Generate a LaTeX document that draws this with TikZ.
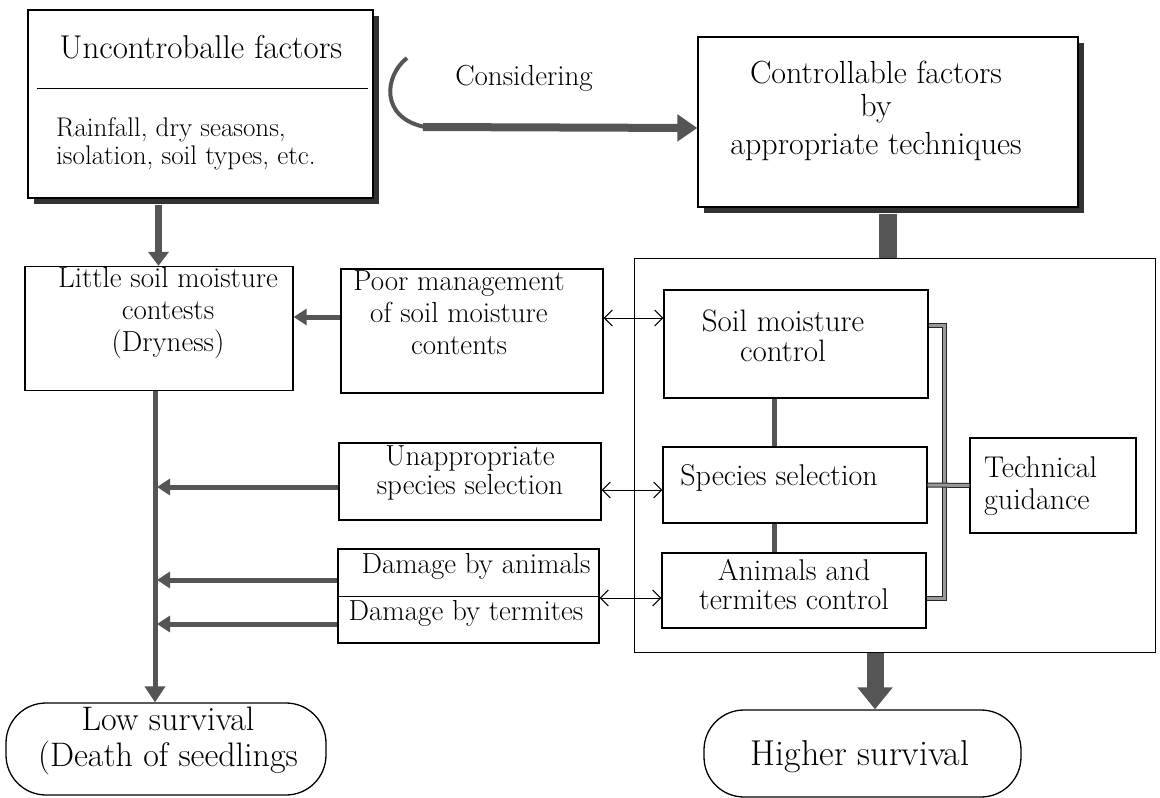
\documentclass[tikz,border=0pt]{standalone}
\usepackage{fontspec}
\usetikzlibrary{arrows.meta,calc,shadows}
\definecolor{arrowgray}{RGB}{85,85,85}
\definecolor{shadowgray}{RGB}{50,50,50}
\tikzset{
  boxnode/.style={draw=black, line width=1.3pt, fill=white, inner sep=0pt},
  shadowbox/.style={boxnode, drop shadow={shadow xshift=6pt, shadow yshift=-6pt, fill=shadowgray, opacity=1}},
  txt/.style={inner sep=0pt, align=center, font=\fontsize{30}{30}\selectfont},
  grayarrow/.style={draw=arrowgray, line width=5pt, -{Triangle[length=13pt,width=16pt]}},
  bigarrow/.style={draw=arrowgray, line width=8pt, -{Triangle[length=20pt,width=26pt]}},
  dblarrow/.style={line width=1pt, {Straight Barb[length=8pt,width=16pt]}-{Straight Barb[length=8pt,width=16pt]}},
  bracketline/.style={draw=black!85, double=arrowgray!60, line width=1pt, double distance=3pt},
  terminal/.style={draw=black, line width=1.3pt, rounded corners=40pt, inner sep=0pt},
}
\begin{document}
\begin{tikzpicture}[x=1pt,y=-1pt]
\useasboundingbox (0,0) rectangle (1160,798);

% ---------- top boxes ----------
\node[shadowbox, minimum width=345pt, minimum height=188pt] (unc) at (200.5,104) {};
\draw[line width=1pt] ([xshift=10pt,yshift=16pt]unc.west) -- ([xshift=-6pt,yshift=16pt]unc.east);
\node[txt, font=\fontsize{33}{36}\selectfont] (unctitle) at (201,47) {Uncontroballe factors};
\node[txt, anchor=west, align=left, font=\fontsize{27}{28}\selectfont] (uncbody) at (56,144) {Rainfall, dry seasons,\\isolation, soil types, etc.};

\node[shadowbox, minimum width=380pt, minimum height=170pt] (ctrl) at (888,122) {};
\node[txt, font=\fontsize{32}{33}\selectfont, anchor=north] (ctrlt) at (876,61) {Controllable factors\\by\\[5pt]appropriate techniques};

% Considering arrow
\coordinate (cstart) at (407,58);
\draw[arrowgray, line width=4pt] (cstart) .. controls (384,76) and (380,118) .. (425,127);
\draw[bigarrow] (423,127) -- ([yshift=-6pt]ctrl.west);
\node[txt, font=\fontsize{29}{30}\selectfont] (consid) at (524,78) {Considering};

% ---------- container ----------
\node[draw=black, line width=1pt, inner sep=0pt, minimum width=521pt, minimum height=394pt] (frame) at (894.5,455) {};
\draw[arrowgray, line width=18pt] ([yshift=-6pt]ctrl.south) -- (ctrl.south |- frame.north);

\node[boxnode, minimum width=264pt, minimum height=108pt] (soil) at (796,344) {};
\node[txt, font=\fontsize{31}{30}\selectfont] (soilt) at (783,336) {Soil moisture\\control};
\node[boxnode, minimum width=264pt, minimum height=76pt] (spec) at (795,485) {};
\node[txt, font=\fontsize{30}{30}\selectfont] (spect) at (779,478) {Species selection};
\node[boxnode, minimum width=264pt, minimum height=75pt] (anim) at (794,590.5) {};
\node[txt, font=\fontsize{30}{29}\selectfont] (animt) at (794,585) {Animals and\\termites control};
\node[boxnode, minimum width=166pt, minimum height=95pt] (tech) at (1053,485.5) {};
\node[txt, anchor=west, align=left, font=\fontsize{30}{32}\selectfont] (techt) at (984,486) {Technical\\guidance};

\coordinate (vx) at ([xshift=-22pt]soil.south);
\draw[arrowgray, line width=5pt] (vx) -- (vx |- spec.north);
\draw[arrowgray, line width=5pt] (vx |- spec.south) -- (vx |- anim.north);
\draw[bracketline] ([yshift=19pt]soil.east) -- ++(16,0) |- ([yshift=-7.5pt]anim.east);
\draw[bracketline] (spec.east) -- (tech.west);

% ---------- left column ----------
\node[boxnode, minimum width=268pt, minimum height=124pt] (little) at (159,328.5) {};
\node[txt, font=\fontsize{29}{32}\selectfont] (littlet) at (168,313) {Little soil moisture\\contests\\(Dryness)};
\draw[grayarrow, line width=7pt, -{Triangle[length=14pt,width=20pt]}] ([xshift=-42pt,yshift=-6pt]unc.south) -- ([xshift=-42pt]unc.south |- little.north);

\node[boxnode, minimum width=262pt, minimum height=124pt] (poor) at (472,331) {};
\node[txt, font=\fontsize{29}{32}\selectfont] (poort) at (459,313) {Poor management\\of soil moisture\\contents};

\node[boxnode, minimum width=262pt, minimum height=77pt] (unap) at (470,481.5) {};
\node[txt, font=\fontsize{29}{29}\selectfont] (unapt) at (470,473) {Unappropriate\\species selection};

\node[boxnode, minimum width=261pt, minimum height=94pt] (dmg) at (468.5,596) {};
\draw[line width=1pt] (dmg.west) -- (dmg.east);
\node[txt, font=\fontsize{29}{30}\selectfont] (dmga) at (476,566) {Damage by animals};
\node[txt, font=\fontsize{29}{30}\selectfont] (dmgt) at (466,613) {Damage by termites};

\node[terminal, minimum width=320pt, minimum height=92pt] (low) at (166,749) {};
\node[txt, font=\fontsize{34}{36}\selectfont] (lowt) at (168,741) {Low survival\\(Death of seedlings};

\node[terminal, minimum width=317pt, minimum height=87pt] (high) at (862.5,753.5) {};
\node[txt, font=\fontsize{36}{38}\selectfont] (hight) at (860,757) {Higher survival};

% trunk
\coordinate (trunkR) at ([xshift=-2pt]little.south);
\draw[grayarrow, line width=5pt, -{Triangle[length=16pt,width=20pt]}] ([xshift=-4pt]little.south) -- ([xshift=-4pt]little.south |- low.north);
\draw[grayarrow] ([yshift=14pt]poor.west) -- ([yshift=14pt]poor.west -| little.east);
\draw[grayarrow] ([yshift=-5.5pt]unap.west) -- ([yshift=-5.5pt]unap.west -| trunkR);
\draw[grayarrow] ([yshift=16pt]dmg.west) -- ([yshift=16pt]dmg.west -| trunkR);
\draw[grayarrow] ([yshift=-28pt]dmg.west) -- ([yshift=-28pt]dmg.west -| trunkR);

% double arrows
\draw[dblarrow] ([yshift=13pt]poor.east) -- ([yshift=13pt]poor.east -| soil.west);
\draw[dblarrow] ([yshift=-8.5pt]unap.east) -- ([yshift=-8.5pt]unap.east -| spec.west);
\draw[dblarrow] ([yshift=-2pt]dmg.east) -- ([yshift=-2pt]dmg.east -| anim.west);

% to higher survival
\draw[draw=arrowgray, line width=17pt, -{Triangle[length=22pt,width=34pt]}] ([xshift=-19.5pt]frame.south) -- ([xshift=-19.5pt]frame.south |- high.north);
\end{tikzpicture}
\end{document}
